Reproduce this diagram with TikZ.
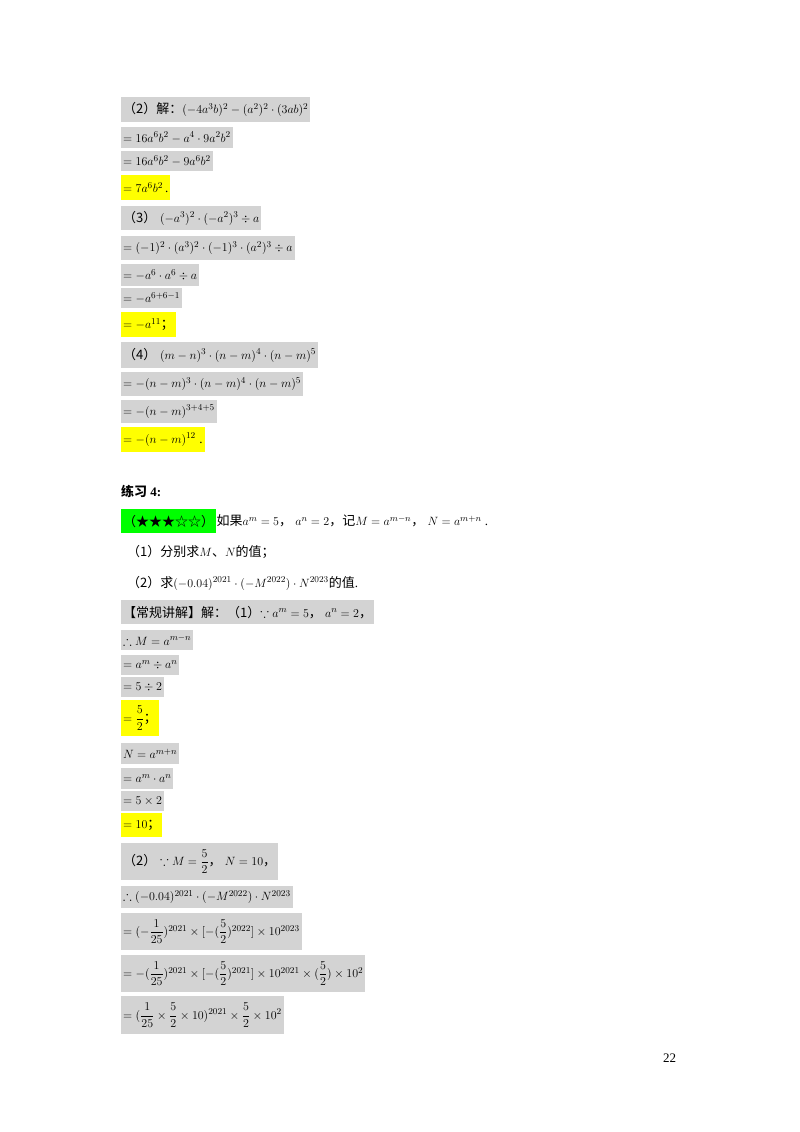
\documentclass[tikz,border=0pt]{standalone}
\usepackage{amsmath,amssymb}
\usepackage{fontspec}
\setmainfont{Liberation Serif}
\newfontfamily\cjk{Noto Sans CJK SC}
\newcommand{\zh}[1]{{\cjk #1}}
\definecolor{hgray}{RGB}{211,211,211}
\definecolor{hyel}{RGB}{255,255,0}
\definecolor{hgreen}{RGB}{0,255,0}
\begin{document}
\begin{tikzpicture}[x=1pt,y=-1pt,
  g/.style={fill=hgray,anchor=north west,inner xsep=2pt,inner ysep=0pt,minimum height=#1,font=\fontsize{13}{15}\selectfont},
  g/.default=22,
  yl/.style={g=#1,fill=hyel},
  yl/.default=24,
  t/.style={anchor=west,inner sep=0pt,font=\fontsize{13}{15}\selectfont}]
\useasboundingbox (0,0) rectangle (800,1132);
\node[g=25] (a1) at (121,97) {\zh{（2）解：}$(-4a^3b)^2-(a^2)^2\cdot(3ab)^2$};
\node[g=21] (a2) at (121,127) {$=16a^6b^2-a^4\cdot 9a^2b^2$};
\node[g=20] (a3) at (121,151) {$=16a^6b^2-9a^6b^2$};
\node[yl=25] (a4) at (121,175) {$=7a^6b^2$\,.};
\node[g=24] (b1) at (121,206) {\zh{（3）}\;$(-a^3)^2\cdot(-a^2)^3\div a$};
\node[g=24] (b2) at (121,236) {$=(-1)^2\cdot(a^3)^2\cdot(-1)^3\cdot(a^2)^3\div a$};
\node[g=22] (b3) at (121,264) {$=-a^6\cdot a^6\div a$};
\node[g=20] (b4) at (121,288) {$=-a^{6+6-1}$};
\node[yl=25] (b5) at (121,312) {$=-a^{11}$\zh{；}};
\node[g=26] (c1) at (121,342) {\zh{（4）}\;$(m-n)^3\cdot(n-m)^4\cdot(n-m)^5$};
\node[g=24] (c2) at (121,372) {$=-(n-m)^3\cdot(n-m)^4\cdot(n-m)^5$};
\node[g=23] (c3) at (121,400) {$=-(n-m)^{3+4+5}$};
\node[yl=25] (c4) at (121,427) {$=-(n-m)^{12}$\;.};
\node[t,font=\fontsize{13}{15}\selectfont\bfseries] (h) at (121,491) {\zh{\bfseries 练习} 4:};
\node[g=24,fill=hgreen] (q0) at (121,509) {\zh{（★★★☆☆）}};
\node[t,anchor=west] (q1) at (q0.east) {\zh{如果}$a^m=5$\zh{，}\ $a^n=2$\zh{，记}$M=a^{m-n}$\zh{，}\ $N=a^{m+n}$\ .};
\node[t] (q2) at (127,552) {\zh{（1）分别求}$M$\zh{、}$N$\zh{的值；}};
\node[t] (q3) at (127,583) {\zh{（2）求}$(-0.04)^{2021}\cdot(-M^{2022})\cdot N^{2023}$\zh{的值}.};
\node[g=24] (s1) at (121,600) {\zh{【常规讲解】解：（1）}$\because a^m=5$\zh{，}\ $a^n=2$\zh{，}};
\node[g=20] (s2) at (121,630) {$\therefore M=a^{m-n}$};
\node[g=20] (s3) at (121,655) {$=a^m\div a^n$};
\node[g=20] (s4) at (121,677) {$=5\div 2$};
\node[yl=36] (s5) at (121,700) {$=\dfrac{5}{2}$\zh{；}};
\node[g=21] (s6) at (121,743) {$N=a^{m+n}$};
\node[g=21] (s7) at (121,768) {$=a^m\cdot a^n$};
\node[g=20] (s8) at (121,791) {$=5\times 2$};
\node[yl=24] (s9) at (121,813) {$=10$\zh{；}};
\node[g=37] (r1) at (121,843) {\zh{（2）}\;$\because M=\dfrac{5}{2}$\zh{，}\ $N=10$\zh{，}};
\node[g=22] (r2) at (121,886) {$\therefore(-0.04)^{2021}\cdot(-M^{2022})\cdot N^{2023}$};
\node[g=37] (r3) at (121,913) {$=(-\dfrac{1}{25})^{2021}\times[-(\dfrac{5}{2})^{2022}]\times10^{2023}$};
\node[g=37] (r4) at (121,955) {$=-(\dfrac{1}{25})^{2021}\times[-(\dfrac{5}{2})^{2021}]\times10^{2021}\times(\dfrac{5}{2})\times10^{2}$};
\node[g=38] (r5) at (121,996) {$=(\dfrac{1}{25}\times\dfrac{5}{2}\times10)^{2021}\times\dfrac{5}{2}\times10^{2}$};
\node[t] (pn) at (663,1058) {22};
\end{tikzpicture}
\end{document}
